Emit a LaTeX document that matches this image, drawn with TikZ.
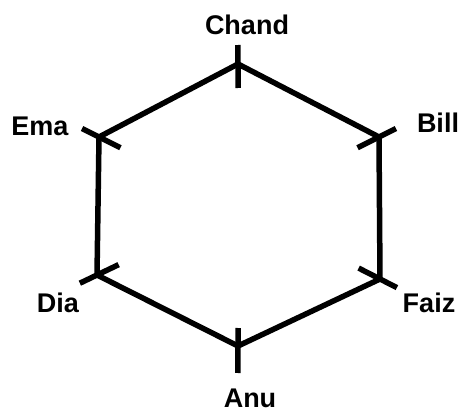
\documentclass[tikz,border=0pt]{standalone}
\usepackage{fontspec}
\setmainfont{Liberation Sans}
\usetikzlibrary{calc}
\begin{document}
\begin{tikzpicture}[x=1pt,y=-1pt,
  edge/.style={line width=5.5pt, line join=round},
  tickmark/.style={line width=5.5pt},
  lbl/.style={font=\fontsize{27}{27}\selectfont\bfseries, inner sep=0pt}]
\useasboundingbox[fill=white] (0,0) rectangle (464,415);
\coordinate (ctr) at (239,207);
\coordinate (chand) at (238,64);
\coordinate (bill) at (379,137);
\coordinate (faiz) at (380,279);
\coordinate (anu) at (238,346);
\coordinate (dia) at (97,275);
\coordinate (ema) at (99,137);
\draw[edge] (chand) -- (bill) -- (faiz) -- (anu) -- (dia) -- (ema) -- cycle;
\foreach \v in {chand,bill,faiz,dia,ema}{
  \draw[tickmark] ($(\v)!-19pt!(ctr)$) -- ($(\v)!24pt!(ctr)$);
}
\draw[tickmark] ($(anu)!-27pt!(ctr)$) -- ($(anu)!18pt!(ctr)$);
\node[lbl] (chandlbl) at (247,25) {Chand};
\node[lbl] (billlbl) at (438,123) {Bill};
\node[lbl] (faizlbl) at (429,303) {Faiz};
\node[lbl] (anulbl) at (250,398) {Anu};
\node[lbl] (dialbl) at (58,303) {Dia};
\node[lbl] (emalbl) at (40,126) {Ema};
\end{tikzpicture}
\end{document}
